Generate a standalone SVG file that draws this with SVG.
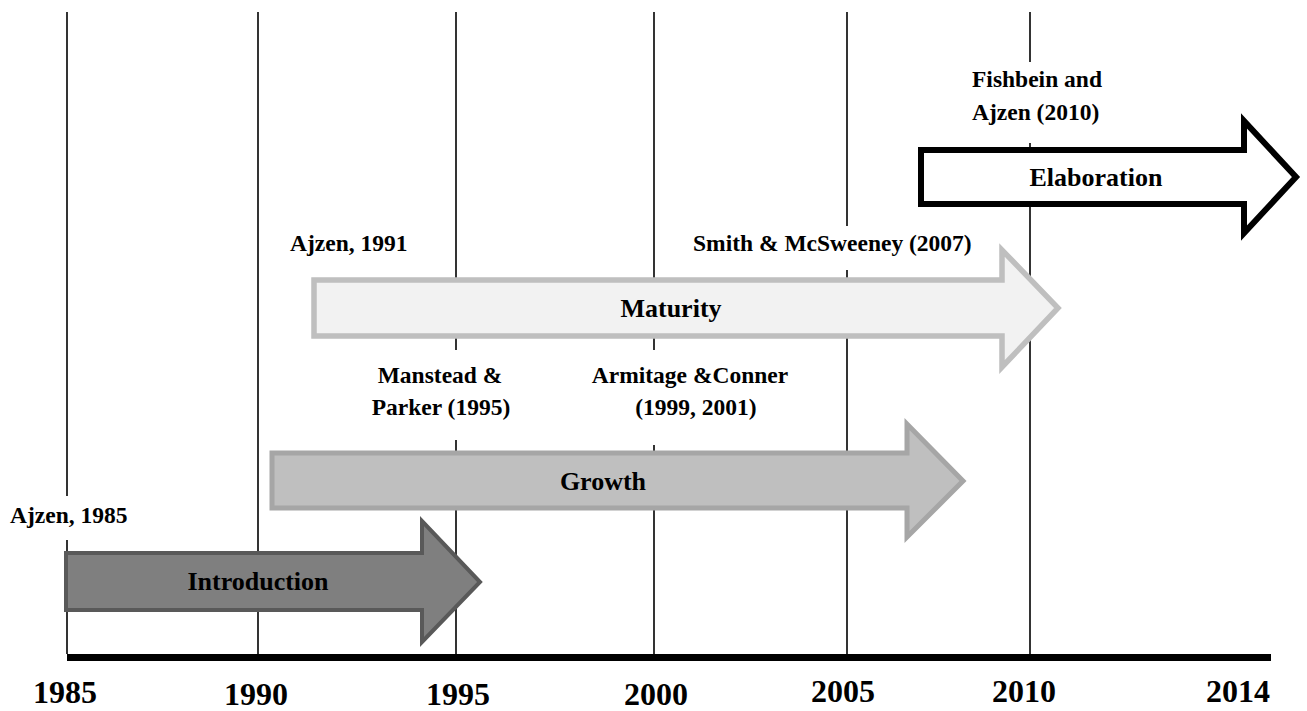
<svg xmlns="http://www.w3.org/2000/svg" width="1307" height="711" viewBox="0 0 1307 711">
  <style>
    .grid { stroke: #000; stroke-width: 1.6; }
    .axis { stroke: #000; stroke-width: 7; }
    .year { font-family: "Liberation Serif", "Times New Roman", serif; font-weight: bold; font-size: 32px; text-anchor: middle; fill: #000; }
    .cite { font-family: "Liberation Serif", "Times New Roman", serif; font-weight: bold; font-size: 23.5px; fill: #000; }
    .phase { font-family: "Liberation Serif", "Times New Roman", serif; font-weight: bold; font-size: 26px; text-anchor: middle; fill: #000; }
    .box { fill: #fff; stroke: none; }
  </style>

  <rect width="1307" height="711" fill="#fff"/>

  <!-- vertical year gridlines and time axis -->
  <g id="connectors">
    <line class="grid" x1="67" y1="12" x2="67" y2="654"/>
    <line class="grid" x1="258" y1="12" x2="258" y2="654"/>
    <line class="grid" x1="456" y1="12" x2="456" y2="654"/>
    <line class="grid" x1="654" y1="12" x2="654" y2="654"/>
    <line class="grid" x1="847" y1="12" x2="847" y2="654"/>
    <line class="grid" x1="1030" y1="12" x2="1030" y2="654"/>
    <line class="axis" x1="67" y1="657.5" x2="1271" y2="657.5"/>
  </g>

  <!-- year labels -->
  <g id="years">
    <text class="year" x="65" y="703">1985</text>
    <text class="year" x="256" y="705">1990</text>
    <text class="year" x="458" y="705">1995</text>
    <text class="year" x="656" y="705">2000</text>
    <text class="year" x="843" y="702">2005</text>
    <text class="year" x="1024" y="702">2010</text>
    <text class="year" x="1238" y="702">2014</text>
  </g>

  <!-- citation labels on white boxes -->
  <g id="cite-ajzen-1985">
    <rect class="box" x="4" y="496" width="134" height="44"/>
    <text class="cite" x="10" y="523">Ajzen, 1985</text>
  </g>
  <g id="cite-ajzen-1991">
    <rect class="box" x="284" y="226" width="136" height="44"/>
    <text class="cite" x="290" y="251">Ajzen, 1991</text>
  </g>
  <g id="cite-smith">
    <rect class="box" x="687" y="226" width="300" height="44"/>
    <text class="cite" x="693" y="251">Smith &amp; McSweeney (2007)</text>
  </g>
  <g id="cite-manstead">
    <rect class="box" x="366" y="350" width="148" height="90"/>
    <text class="cite" x="440" y="383" text-anchor="middle">Manstead &amp;</text>
    <text class="cite" x="441" y="415" text-anchor="middle">Parker (1995)</text>
  </g>
  <g id="cite-armitage">
    <rect class="box" x="592" y="350" width="196" height="95"/>
    <text class="cite" x="690" y="383" text-anchor="middle">Armitage &amp;Conner</text>
    <text class="cite" x="696" y="415" text-anchor="middle">(1999, 2001)</text>
  </g>
  <g id="cite-fishbein">
    <rect class="box" x="964" y="62" width="150" height="81"/>
    <text class="cite" x="972" y="87">Fishbein and</text>
    <text class="cite" x="972" y="120">Ajzen (2010)</text>
  </g>

  <!-- phase arrows -->
  <g id="introduction">
    <path d="M66,553 H422 V521 L480,582 L422,642 V610 H66 Z" fill="#7f7f7f" stroke="#595959" stroke-width="4"/>
    <text class="phase" x="258" y="590">Introduction</text>
  </g>
  <g id="growth">
    <path d="M272,453 H907 V424 L963,481 L907,537 V508 H272 Z" fill="#bfbfbf" stroke="#a6a6a6" stroke-width="5"/>
    <text class="phase" x="603" y="490">Growth</text>
  </g>
  <g id="maturity">
    <path d="M314,280 H1002 V250 L1058,308 L1002,367 V336 H314 Z" fill="#f2f2f2" stroke="#bfbfbf" stroke-width="5.5"/>
    <text class="phase" x="671" y="317">Maturity</text>
  </g>
  <g id="elaboration">
    <path d="M921,150 H1244 V121 L1296,177 L1244,233 V204 H921 Z" fill="#fff" stroke="#000" stroke-width="6"/>
    <text class="phase" x="1096" y="186">Elaboration</text>
  </g>
</svg>
